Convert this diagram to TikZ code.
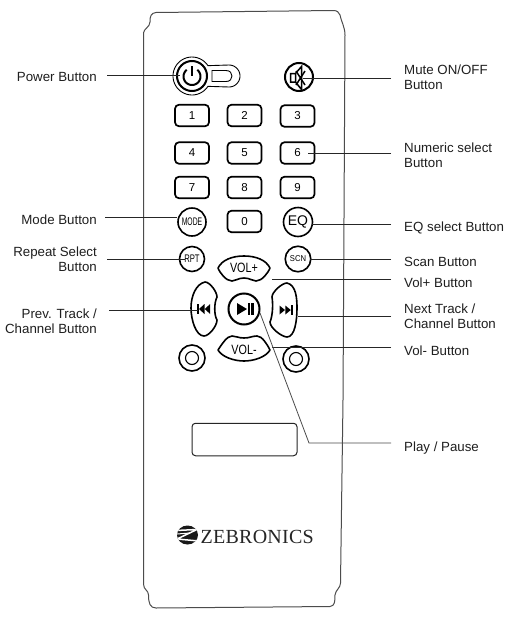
\documentclass[tikz,border=0pt]{standalone}
\usepackage{fontspec}
\usepackage{graphicx}
\setmainfont{Liberation Sans}
\newfontfamily\logofont[LetterSpace=1.2]{Liberation Serif}
\tikzset{
  body/.style={draw=black!70,line width=1pt},
  key/.style={draw=black,line width=1.7pt,rounded corners=4pt,minimum width=34pt,minimum height=21.5pt,inner sep=0pt,font=\fontsize{11.5}{12}\selectfont},
  round key/.style={draw=black,line width=1.6pt,circle,inner sep=0pt},
  pad/.style={draw=black,line width=1.6pt,line join=round},
  padtext/.style={inner sep=0pt},
  ink/.style={fill=black,draw=none},
  lbl/.style={inner sep=0pt,anchor=base west,align=left,font=\fontsize{13.3}{15}\selectfont,text=black!88},
  lblr/.style={inner sep=0pt,anchor=base east,align=right,font=\fontsize{13.3}{15}\selectfont,text=black!88},
  leader/.style={draw=black!85,line width=0.8pt}
}
\begin{document}
\begin{tikzpicture}[x=1pt,y=-1pt]
\useasboundingbox (0,0) rectangle (517,627);
\fill[white] (0,0) rectangle (517,627);
% remote body
\draw[body] (143.5,33) .. controls (143.5,29) and (150,27) .. (150,22)
  .. controls (150,16) and (151,13) .. (156,12.5)
  -- (333,10.5) .. controls (337,10.5) and (339,12) .. (340,15)
  .. controls (341,21) and (345,27) .. (345,35)
  -- (343,400) -- (340.5,583)
  .. controls (340.5,588) and (335.5,590) .. (335,595)
  .. controls (335,601) and (335,606) .. (330,606.5)
  -- (156,608) .. controls (150,608) and (148.5,603) .. (148.5,595)
  .. controls (148.5,590) and (143.5,590) .. (143.5,584) -- cycle;
% power button
\draw[draw=black,line width=0.9pt] (229,65) -- plot[domain=57:-237,samples=40] ({192+19*sin(\x)},{76-19*cos(\x)})
  -- plot[domain=180:0,samples=24] ({229+11*sin(\x)},{76-11*cos(\x)}) -- cycle;
\draw[draw=black,line width=0.9pt] (212,70.5) -- (226,70.5) .. controls (230,70.5) and (232,73) .. (232,76)
  .. controls (232,79) and (230,81.5) .. (226,81.5) -- (212,81.5) -- cycle;
\node[round key,line width=2pt,minimum size=30pt] (power) at (192,76) {};
\draw[line width=2pt] plot[domain=38:322,samples=30] ({192+8.5*sin(\x)},{76.5-8.5*cos(\x)});
\draw[line width=2pt] (192,66) -- (192,76);
% mute
\node[round key,line width=2pt,minimum size=28pt] (mute) at (299,77) {};
\draw[line width=1.5pt] (290.5,73.5) rectangle (295.5,82) (295.5,73.5) -- (301.5,66.5) -- (301.5,89.5) -- (295.5,82);
\draw[line width=1.5pt] (296,71) -- (305,85) (305,71) -- (296,85);
% numeric keys
\node[key] (k1) at (192,115.5) {1};
\node[key] (k2) at (244.5,115.5) {2};
\node[key] (k3) at (297.5,116) {3};
\node[key] (k4) at (192,153) {4};
\node[key] (k5) at (244.5,153) {5};
\node[key] (k6) at (297.5,153) {6};
\node[key] (k7) at (192,187.5) {7};
\node[key] (k8) at (244.5,187.5) {8};
\node[key] (k9) at (297.5,187.5) {9};
\node[key] (k0) at (244.5,221.5) {0};
% round keys
\node[round key,minimum size=28pt] (mode) at (192,222) {\scalebox{0.62}[1]{\fontsize{11}{12}\selectfont MODE}};
\node[round key,minimum size=29pt] (eq) at (298,222) {\fontsize{14}{15}\selectfont EQ};
\node[round key,minimum size=25pt] (rpt) at (192,259) {\scalebox{0.7}[1]{\fontsize{11}{12}\selectfont RPT}};
\node[round key,minimum size=25.5pt] (scn) at (298,259) {\scalebox{0.9}[1]{\fontsize{8.5}{9}\selectfont SCN}};
% direction pad
\draw[pad] (218,268) .. controls (222,260) and (232,256) .. (244,256)
  .. controls (256,256) and (266,260) .. (270,268)
  .. controls (268,273) and (262,281) .. (256,281)
  .. controls (252,281) and (250,278) .. (244,278)
  .. controls (238,278) and (236,281) .. (232,281)
  .. controls (226,281) and (220,273) .. cycle;
\node[padtext] (volp) at (244,268) {\scalebox{0.8}[1]{\fontsize{13.5}{14}\selectfont VOL+}};
\draw[pad] (218,350) .. controls (222,344) and (227,336) .. (232,336)
  .. controls (236,336) and (238,338) .. (244,338)
  .. controls (250,338) and (252,336) .. (257,336)
  .. controls (262,336) and (267,344) .. (270,350)
  .. controls (266,357) and (254,361) .. (244,361)
  .. controls (234,361) and (222,357) .. cycle;
\node[padtext] (volm) at (244,350) {\scalebox{0.8}[1]{\fontsize{13.5}{14}\selectfont VOL-}};
\draw[pad] (205,282) .. controls (196,284) and (191,296) .. (191,308)
  .. controls (191,320) and (196,336) .. (204,336)
  .. controls (209,336) and (217,326) .. (217,320)
  .. controls (214,315) and (214,303) .. (217,297)
  .. controls (217,292) and (210,282) .. cycle;
\draw[pad] (287,283) .. controls (296,285) and (297,298) .. (297,308)
  .. controls (297,320) and (295,337) .. (287,337)
  .. controls (282,337) and (270,328) .. (270,322)
  .. controls (273,315) and (273,303) .. (272,297)
  .. controls (272,292) and (282,283) .. cycle;
% skip icons
\coordinate (prev) at (198,309);
\fill[ink] (196.8,304) rectangle (198.6,314);
\fill[ink] (204.5,304) -- (199,309) -- (204.5,314) -- cycle;
\fill[ink] (210.2,304) -- (204.7,309) -- (210.2,314) -- cycle;
\coordinate (next) at (298,317);
\fill[ink] (279.5,305.5) -- (285,310) -- (279.5,314.5) -- cycle;
\fill[ink] (285.3,305.5) -- (290.8,310) -- (285.3,314.5) -- cycle;
\fill[ink] (291,305) rectangle (293,315);
% play
\node[round key,line width=2pt,minimum size=31pt] (play) at (244,309) {};
\fill[ink] (237,303) -- (247,309) -- (237,315) -- cycle;
\fill[ink] (247.6,303) rectangle (250.2,315);
\fill[ink] (251.4,303) rectangle (254,315);
% small rings
\node[round key,minimum size=26pt] (ringl) at (192,358) {};
\node[draw=black,line width=1.1pt,circle,inner sep=0pt,minimum size=13pt] (ringli) at (192,358) {};
\node[round key,minimum size=26pt] (ringr) at (296,359) {};
\node[draw=black,line width=1.1pt,circle,inner sep=0pt,minimum size=13pt] (ringri) at (296,359) {};
% display window
\node[draw=black!85,line width=1pt,rounded corners=3.5pt,minimum width=105pt,minimum height=32.5pt,inner sep=0pt] (window) at (244.5,439.5) {};
% logo
\begin{scope}
  \clip (187.5,535) ellipse [x radius=10.5,y radius=9.5];
  \fill[black!90] (175,524) rectangle (200,546);
  \draw[white,line width=1.5pt] (176,530.5) -- (197,529.5) -- (177,539) -- (199,541);
  \draw[white,line width=1pt] (177,534) -- (190,533);
\end{scope}
\node[inner sep=0pt,anchor=base west,font=\logofont\fontsize{20}{22}\selectfont,text=black!85] (logo) at (200.5,543.3) {ZEBRONICS};
% leader anchors
\coordinate (tPower) at (107,75);
\coordinate (ePower) at (180,75);
\coordinate (tMode) at (105,217);
\coordinate (eMode) at (177,217);
\coordinate (tRpt) at (107,259);
\coordinate (eRpt) at (185,259);
\coordinate (tPrev) at (109,310);
\coordinate (ePrev) at (198,310);
\coordinate (tMute) at (391,78);
\coordinate (eMute) at (303,78);
\coordinate (tNum) at (391,153);
\coordinate (eNum) at (308,153);
\coordinate (tEq) at (391,224);
\coordinate (eEq) at (312,224);
\coordinate (tScn) at (391,259);
\coordinate (eScn) at (310,259);
\coordinate (tVolp) at (391,279);
\coordinate (eVolp) at (272,279);
\coordinate (tNext) at (391,316.5);
\coordinate (eNext) at (298,316.5);
\coordinate (tVolm) at (391,347);
\coordinate (eVolm) at (272,347);
\coordinate (tPlay) at (391,443);
\coordinate (bPlay) at (309,443);
\coordinate (ePlay) at (260,313);
% leaders
\draw[leader] (tPower) -- (ePower);
\draw[leader] (tMode) -- (eMode);
\draw[leader] (tRpt) -- (eRpt);
\draw[leader] (tPrev) -- (ePrev);
\draw[leader] (tMute) -- (eMute);
\draw[leader] (tNum) -- (eNum);
\draw[leader] (tEq) -- (eEq);
\draw[leader] (tScn) -- (eScn);
\draw[leader] (tVolp) -- (eVolp);
\draw[leader] (tNext) -- (eNext);
\draw[leader] (tVolm) -- (eVolm);
\draw[leader,draw=black!70] (tPlay) -- (bPlay) -- (ePlay);
% labels
\node[lblr] (lPower) at (97,81) {Power Button};
\node[lblr] (lMode) at (97,224) {Mode Button};
\node[lblr] (lRpt) at (97,271) {Repeat Select\\Button};
\node[lblr] (lPrev) at (97,333) {Prev. Track /\\Channel Button};
\node[lbl] (lMute) at (404,89) {Mute ON/OFF\\Button};
\node[lbl] (lNum) at (404,167) {Numeric select\\Button};
\node[lbl] (lEq) at (404,231) {EQ select Button};
\node[lbl] (lScn) at (404,266) {Scan Button};
\node[lbl] (lVolp) at (404,287) {Vol+ Button};
\node[lbl] (lNext) at (404,328) {Next Track /\\Channel Button};
\node[lbl] (lVolm) at (404,355) {Vol- Button};
\node[lbl] (lPlay) at (404,451) {Play / Pause};
\end{tikzpicture}
\end{document}
